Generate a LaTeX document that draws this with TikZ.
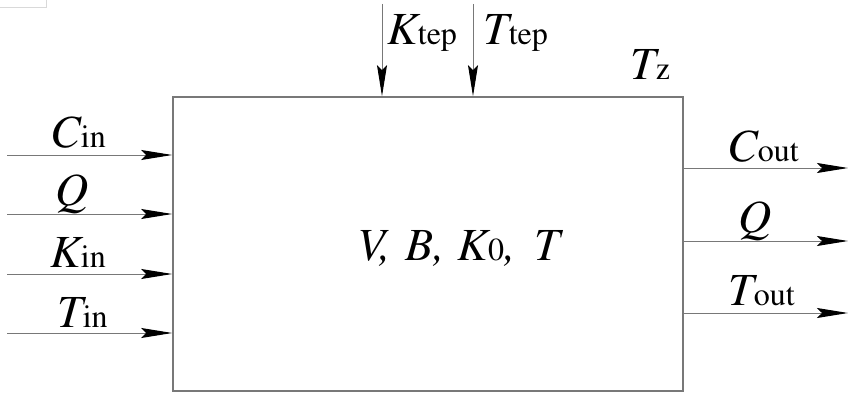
\documentclass[tikz,border=0pt]{standalone}
\usepackage[T1]{fontenc}
\usepackage{mathptmx}
\usetikzlibrary{arrows.meta,calc}
\newcommand\mainsz{\fontsize{46}{48}\selectfont}
\newcommand\subsz{\fontsize{32}{34}\selectfont}
\newcommand\lbl[2]{{\mainsz\itshape #1}{\subsz\upshape #2}}
\definecolor{lingray}{RGB}{120,120,120}
\tikzset{
  lab/.style={inner sep=0pt, anchor=base west},
  arr/.style={draw=lingray, line width=1pt, -{Stealth[length=31pt,width=10pt,inset=5pt,color=black]}},
  blk/.style={draw=lingray, line width=1.6pt, inner sep=0pt}
}
\begin{document}
\begin{tikzpicture}[x=1pt,y=-1pt]
\useasboundingbox (0,0) rectangle (848,393);
% corner artifact
\draw[black!15, line width=0.8pt] (-1,-1) rectangle (46,7);
% block
\node[blk, minimum width=510pt, minimum height=294pt] (box) at (428,244) {};
% free ends
\coordinate (iC) at (7,155);
\coordinate (iQ) at (7,214);
\coordinate (iK) at (7,274);
\coordinate (iT) at (7,333);
\coordinate (oC) at (848,168);
\coordinate (oQ) at (848,241);
\coordinate (oT) at (848,313);
\coordinate (tK) at (382,4);
\coordinate (tT) at (473,4);
% input arrows
\foreach \c in {iC,iQ,iK,iT}{\draw[arr] (\c) -- (\c -| box.west);}
% output arrows
\foreach \c in {oC,oQ,oT}{\draw[arr] (\c -| box.east) -- (\c);}
% top arrows
\foreach \c in {tK,tT}{\draw[arr] (\c) -- (\c |- box.north);}
% labels
\node[lab] (lCin) at (50,147) {\lbl{C}{in}};
\node[lab] (lQin) at (55,205) {\lbl{Q}{}};
\node[lab] (lKin) at (50,267) {\lbl{K}{in}};
\node[lab] (lTin) at (57,327) {\lbl{T}{in}};
\node[lab] (lCout) at (727,161) {\lbl{C}{out}};
\node[lab] (lQout) at (738,232) {\lbl{Q}{}};
\node[lab] (lTout) at (728,305) {\lbl{T}{out}};
\node[lab] (lKtep) at (387,45) {\lbl{K}{tep}};
\node[lab] (lTtep) at (483,45) {\lbl{T}{tep}};
\node[lab] (lTz) at (630,80) {\lbl{T}{z}};
\node[lab] (lmid) at (357,260) {{\mainsz\itshape V,\hspace{3pt} B,\hspace{1pt} K}{\subsz 0}{\mainsz\itshape ,\hspace{7pt} T}};
\end{tikzpicture}
\end{document}
